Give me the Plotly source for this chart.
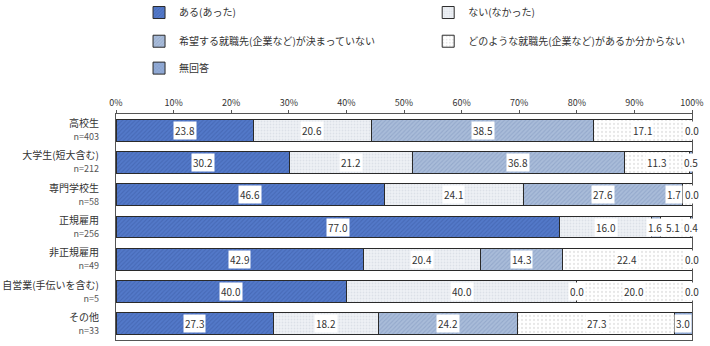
import plotly.graph_objects as go

categories = ["高校生", "大学生(短大含む)", "専門学校生", "正規雇用", "非正規雇用", "自営業(手伝いを含む)", "その他"]
n_values = [403, 212, 58, 256, 49, 5, 33]
series_names = ["ある(あった)", "ない(なかった)", "希望する就職先(企業など)が決まっていない",
                "どのような就職先(企業など)があるか分からない", "無回答"]
s_aru = [23.8, 30.2, 46.6, 77.0, 42.9, 40.0, 27.3]
s_nai = [20.6, 21.2, 24.1, 16.0, 20.4, 40.0, 18.2]
s_kimatte = [38.5, 36.8, 27.6, 1.6, 14.3, 0.0, 24.2]
s_wakaranai = [17.1, 11.3, 1.7, 5.1, 22.4, 20.0, 27.3]
s_mukaitou = [0.0, 0.5, 0.0, 0.4, 0.0, 0.0, 3.0]
x_ticks = [0, 10, 20, 30, 40, 50, 60, 70, 80, 90, 100]

series = [s_aru, s_nai, s_kimatte, s_wakaranai, s_mukaitou]
styles = [
    dict(bg="#5379c9", fg="#3a5aa3", shape="/", size=3, sol=0.35),
    dict(bg="#eef1f5", fg="#c9d0da", shape=".", size=3, sol=0.3),
    dict(bg="#a9bcd9", fg="#7e95bd", shape="/", size=3, sol=0.35),
    dict(bg="#ffffff", fg="#cfcfcf", shape=".", size=4, sol=0.25),
    dict(bg="#93acd6", fg="#6c88bd", shape="x", size=3, sol=0.3),
]
legend_pos = [
    ("legend", 0.04, 1.449),
    ("legend2", 0.542, 1.449),
    ("legend3", 0.04, 1.322),
    ("legend4", 0.542, 1.322),
    ("legend5", 0.04, 1.203),
]

ylabels = [f"{c}<br><span style='font-size:9px;color:#555'>n={n}</span>" for c, n in zip(categories, n_values)]

fig = go.Figure()
for i, (vals, st) in enumerate(zip(series, styles)):
    fig.add_trace(go.Bar(
        x=vals, y=ylabels, orientation="h", name=series_names[i],
        marker=dict(color=st["bg"], line=dict(color="#2a2a2a", width=1),
                    pattern=dict(shape=st["shape"], fgcolor=st["fg"], bgcolor=st["bg"],
                                 size=st["size"], solidity=st["sol"], fillmode="overlay")),
        legend=legend_pos[i][0], showlegend=True, hoverinfo="skip",
    ))

# value labels with white boxes (shifted left when they would collide)
MIN_GAP = 3.2
annotations = []
for row in range(len(categories)):
    cum = 0.0
    mids = []
    for vals in series:
        v = vals[row]
        mids.append(min(round(cum + v / 2, 6), 99.99))
        cum += v
    for k in range(len(mids) - 2, -1, -1):
        if mids[k + 1] - mids[k] < MIN_GAP:
            mids[k] = mids[k + 1] - MIN_GAP
    for vals, mid in zip(series, mids):
        annotations.append(dict(x=mid, y=ylabels[row], xref="x", yref="y", text=f"{vals[row]:.1f}",
                                showarrow=False, bgcolor="#ffffff", borderpad=1,
                                font=dict(size=10, color="#333333", family="Noto Sans CJK JP")))

layout_legends = {}
for key, lx, ly in legend_pos:
    layout_legends[key] = dict(x=lx, y=ly, xanchor="left", yanchor="middle", bgcolor="rgba(0,0,0,0)",
                               font=dict(size=10, color="#333333", family="Noto Sans CJK JP"))

fig.update_layout(
    width=710, height=346,
    margin=dict(l=116, r=18, t=114, b=6, autoexpand=False),
    barmode="stack", bargap=0.32,
    plot_bgcolor="#ffffff", paper_bgcolor="#ffffff",
    font=dict(family="Noto Sans CJK JP", size=10, color="#333333"),
    annotations=annotations,
    **layout_legends,
)
fig.update_xaxes(side="top", range=[0, 100], tickvals=x_ticks, ticktext=[f"{t}%" for t in x_ticks],
                 showgrid=False, zeroline=False, showline=True, linecolor="#555555", linewidth=1,
                 mirror=True, ticks="outside", ticklen=3, tickcolor="#555555",
                 tickfont=dict(size=9, color="#333333"), fixedrange=True)
fig.update_yaxes(autorange="reversed", showgrid=False, showline=True, linecolor="#555555", linewidth=1,
                 mirror=True, ticks="", tickfont=dict(size=10, color="#333333"), ticklabelstandoff=14,
                 fixedrange=True)

fig.write_html("out.html")
